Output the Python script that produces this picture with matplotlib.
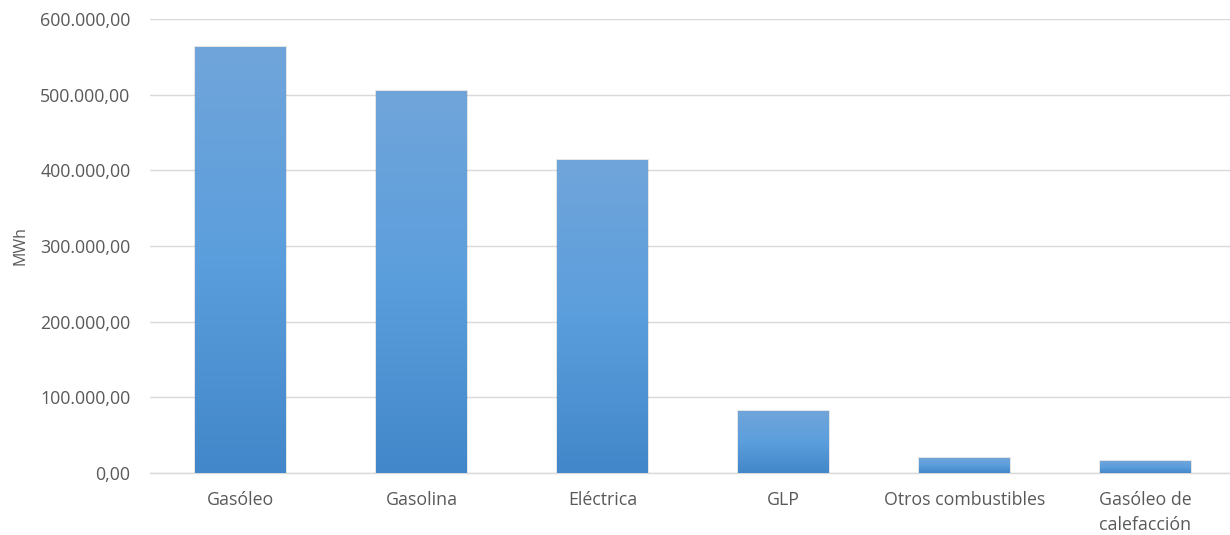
import matplotlib.pyplot as plt
import numpy as np
from matplotlib.ticker import FuncFormatter
from matplotlib.colors import LinearSegmentedColormap

categories = ["Gasóleo", "Gasolina", "Eléctrica", "GLP", "Otros combustibles", "Gasóleo de\ncalefacción"]
values = [563500, 505000, 414000, 82000, 19800, 15500]
yticks = [0, 100000, 200000, 300000, 400000, 500000, 600000]

plt.rcParams['font.family'] = ['Open Sans', 'DejaVu Sans']
text_color = '#595959'
grid_color = '#d9d9d9'

def es_fmt(v, pos=None):
    s = f"{v:,.2f}"
    return s.replace(",", "X").replace(".", ",").replace("X", ".")

fig = plt.figure(figsize=(12.3, 5.35), dpi=100)
ax = fig.add_axes([150 / 1230, 0.1164, 1086 / 1230, 0.964 - 0.1164])

x = np.arange(len(categories))
bars = ax.bar(x, values, width=0.5, color='none', edgecolor='none', zorder=3)

# vertical gradient fill, lighter at the top
cmap = LinearSegmentedColormap.from_list('bar', ['#4287c9', '#5b9edd', '#70a5da'])
grad = np.linspace(0, 1, 256).reshape(-1, 1)
for b in bars:
    x0, y0 = b.get_x(), b.get_y()
    w, h = b.get_width(), b.get_height()
    # soft shadow around the bar
    ax.bar(x0 + w / 2, h + 1500, width=w + 0.014, bottom=y0, color='#000000', alpha=0.10, zorder=2, edgecolor='none')
    im = ax.imshow(grad, cmap=cmap, aspect='auto', origin='lower',
                   extent=[x0, x0 + w, y0, y0 + h], zorder=3)
    im.set_clip_path(b)

ax.set_xlim(-0.5, len(categories) - 0.5)
ax.set_ylim(0, 600000)
ax.set_yticks(yticks)
ax.yaxis.set_major_formatter(FuncFormatter(es_fmt))
ax.set_xticks(x)
ax.set_xticklabels(categories, linespacing=1.55)

ax.grid(axis='y', color=grid_color, linewidth=1.0, zorder=0)
ax.set_axisbelow(True)
for s in ['top', 'right', 'left']:
    ax.spines[s].set_visible(False)
ax.spines['bottom'].set_color(grid_color)
ax.spines['bottom'].set_linewidth(1.0)

ax.tick_params(axis='y', length=0, pad=14, labelsize=12.8, labelcolor=text_color)
ax.tick_params(axis='x', length=0, pad=13, labelsize=12.8, labelcolor=text_color)

ax.set_ylabel("MWh", fontsize=11.5, color=text_color)
ax.yaxis.set_label_coords(-122 / 1086, 0.5)

fig.savefig("out.png", dpi=100)
